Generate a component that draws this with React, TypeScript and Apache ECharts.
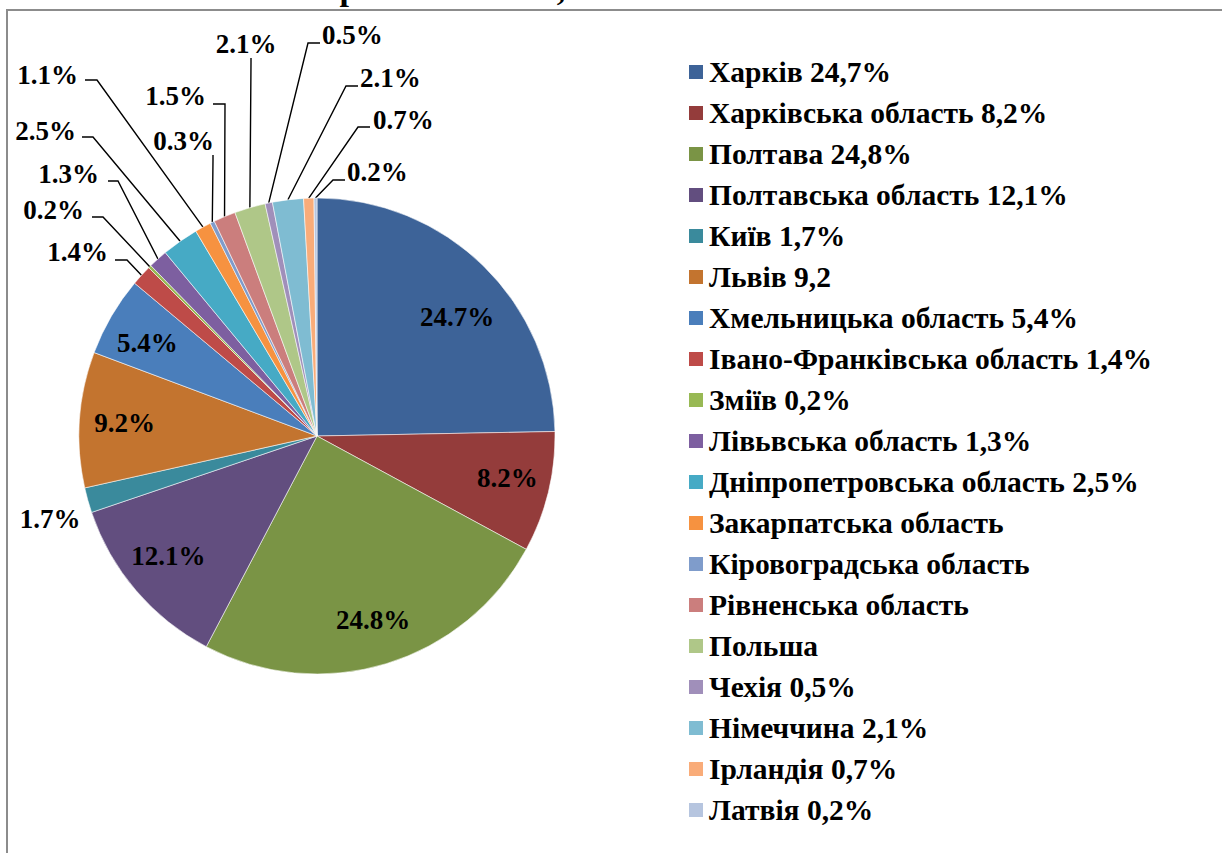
import React, { useEffect, useRef } from 'react';
import * as echarts from 'echarts';

const names = [
  'Харків 24,7%',
  'Харківська область 8,2%',
  'Полтава 24,8%',
  'Полтавська область 12,1%',
  'Київ 1,7%',
  'Львів 9,2',
  'Хмельницька область 5,4%',
  'Івано-Франківська область 1,4%',
  'Зміїв 0,2%',
  'Лівьвська область 1,3%',
  'Дніпропетровська область 2,5%',
  'Закарпатська область',
  'Кіровоградська область',
  'Рівненська область',
  'Польша',
  'Чехія 0,5%',
  'Німеччина 2,1%',
  'Ірландія 0,7%',
  'Латвія 0,2%',
];
const values = [24.7, 8.2, 24.8, 12.1, 1.7, 9.2, 5.4, 1.4, 0.2, 1.3, 2.5, 1.1, 0.3, 1.5, 2.1, 0.5, 2.1, 0.7, 0.2];
const colors = [
  '#3D6398', '#943C3B', '#7A9445', '#624E7F', '#3A8A9C', '#C3742F',
  '#4A7EBB', '#BE4B48', '#98B954', '#7D5FA0', '#46AAC5', '#F69240',
  '#7F9CCB', '#CB7E7D', '#AFC788', '#A08FBA', '#7FBCD2', '#F9AC79',
  '#B6C5DF',
];
const insideIdx = [0, 1, 2, 3, 5, 6];

// layout constants
const CX = 317;
const CY = 436;
const R = 238;
const INSIDE_R = 0.81;
const FONT = 'Liberation Serif, Times New Roman, serif';
const INSIDE_SHIFT: Record<number, number[]> = {
  0: [5, 19],
  1: [3, -4],
  3: [-2, -5],
  6: [-3, 4],
};

type OutLabel = { pts: number[][] | null; x: number; y: number; align: string };
const OUT_LABELS: Record<number, OutLabel> = {
  4: { pts: null, x: 50, y: 519, align: 'center' },
  7: { pts: [[127, 260], [115, 260]], x: 108, y: 252, align: 'right' },
  8: { pts: [[103, 217], [92, 217]], x: 84, y: 210, align: 'right' },
  9: { pts: [[118, 181], [108, 181]], x: 99, y: 174, align: 'right' },
  10: { pts: [[93, 137], [82, 137]], x: 76, y: 131, align: 'right' },
  11: { pts: [[97, 80], [85, 80]], x: 78, y: 75, align: 'right' },
  12: { pts: [[213, 160], [213, 155]], x: 214, y: 141, align: 'right' },
  13: { pts: [[225, 104], [213, 104]], x: 206, y: 96, align: 'right' },
  14: { pts: [[251, 62], [251, 58]], x: 246, y: 44, align: 'center' },
  15: { pts: [[308, 43], [320, 43]], x: 322, y: 35, align: 'left' },
  16: { pts: [[346, 86], [358, 86]], x: 360, y: 78, align: 'left' },
  17: { pts: [[358, 127], [370, 127]], x: 373, y: 120, align: 'left' },
  18: { pts: [[333, 180], [345, 180]], x: 347, y: 172, align: 'left' },
};

export default function App() {
  const ref = useRef<HTMLDivElement>(null);
  useEffect(() => {
    if (!ref.current) return;
    const chart = echarts.init(ref.current, null, { renderer: 'svg' });
    const total = values.reduce((a, b) => a + b, 0);
    const mids: number[] = [];
    let acc = 0;
    values.forEach((v) => {
      mids.push(((acc + v / 2) / total) * Math.PI * 2);
      acc += v;
    });
    const data = values.map((v, i) => {
      const inside = insideIdx.includes(i);
      return {
        name: names[i],
        value: v,
        itemStyle: { color: colors[i] },
        label: { position: inside ? 'inside' : 'outside' },
        labelLine: { show: !inside && OUT_LABELS[i] && OUT_LABELS[i].pts !== null },
      };
    });
    chart.setOption({
      animation: false,
      backgroundColor: '#ffffff',
      legend: {
        orient: 'vertical',
        left: 684,
        top: 52,
        icon: 'rect',
        itemWidth: 14,
        itemHeight: 14,
        itemGap: 11,
        itemStyle: { borderWidth: 0 },
        selectedMode: false,
        data: names,
        textStyle: {
          fontFamily: FONT,
          fontWeight: 'bold',
          fontSize: 29.5,
          lineHeight: 30,
          color: '#000',
          padding: [0, 0, 0, 1],
        },
      },
      graphic: [
        {
          type: 'rect',
          shape: { x: 7, y: 10, width: 1400, height: 1000 },
          style: { fill: 'none', stroke: '#8c8c8c', lineWidth: 2 },
          silent: true,
        },
        {
          type: 'text',
          x: 349,
          y: 5,
          style: {
            text: 'р',
            fontFamily: FONT,
            fontWeight: 'bold',
            fontSize: 34,
            fill: '#000',
            align: 'center',
            verticalAlign: 'bottom',
          },
          silent: true,
        },
        {
          type: 'text',
          x: 561,
          y: 5,
          style: {
            text: ',',
            fontFamily: FONT,
            fontWeight: 'bold',
            fontSize: 34,
            fill: '#000',
            align: 'center',
            verticalAlign: 'bottom',
          },
          silent: true,
        },
      ],
      series: [
        {
          type: 'pie',
          center: [CX, CY],
          radius: [0, R],
          startAngle: 90,
          clockwise: true,
          avoidLabelOverlap: false,
          emphasis: { disabled: true },
          itemStyle: { borderColor: 'rgba(255,255,255,0.7)', borderWidth: 0.8 },
          label: {
            show: true,
            formatter: (p: any) => `${Number(p.value).toFixed(1)}%`,
            fontFamily: FONT,
            fontWeight: 'bold',
            fontSize: 27,
            color: '#000',
          },
          labelLine: {
            show: true,
            lineStyle: { color: '#000', width: 1.4 },
          },
          labelLayout: (p: any) => {
            const i = p.dataIndex;
            const a = mids[i];
            if (insideIdx.includes(i)) {
              const rr = R * INSIDE_R;
              const sh = INSIDE_SHIFT[i] || [0, 0];
              return {
                x: CX + rr * Math.sin(a) + sh[0],
                y: CY - rr * Math.cos(a) + sh[1],
                align: 'center',
                verticalAlign: 'middle',
              };
            }
            const o = OUT_LABELS[i];
            const res: any = { x: o.x, y: o.y, align: o.align, verticalAlign: 'middle' };
            if (o.pts) {
              const start = [CX + R * Math.sin(a), CY - R * Math.cos(a)];
              res.labelLinePoints = [start, ...o.pts];
            }
            return res;
          },
          data,
        },
      ],
    });
    return () => chart.dispose();
  }, []);
  return (
    <div
      ref={ref}
      style={{ position: 'fixed', left: 0, top: 0, width: 1222, height: 853 }}
    />
  );
}
